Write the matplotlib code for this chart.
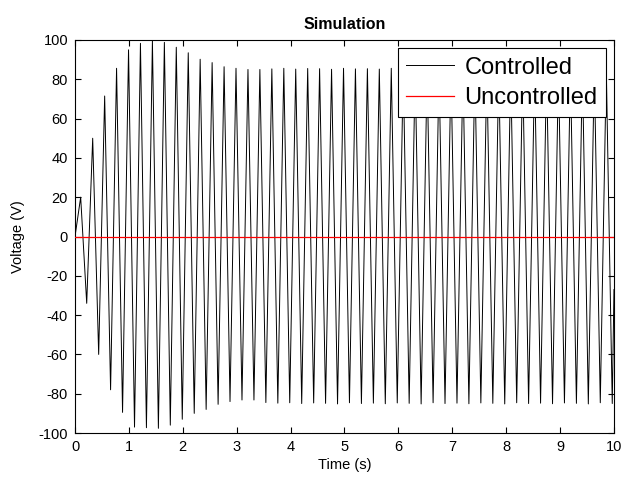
import numpy as np
import matplotlib
matplotlib.use('Agg')
import matplotlib.pyplot as plt

plt.rcParams['font.family'] = ['Liberation Sans', 'DejaVu Sans']
plt.rcParams['axes.unicode_minus'] = False

# controlled response, turning points of the oscillation (time in s, voltage in V)
ctrl_t = [0.0, 0.105, 0.217,
          0.328, 0.439, 0.550, 0.660, 0.771, 0.882, 0.993, 1.104, 1.214, 1.325,
          1.436, 1.547, 1.658, 1.768, 1.879, 1.990, 2.101, 2.212, 2.322, 2.433,
          2.544, 2.655, 2.766, 2.876, 2.987, 3.098, 3.209, 3.320, 3.430, 3.541,
          3.652, 3.763, 3.874, 3.984, 4.095, 4.206, 4.317, 4.428, 4.538, 4.649,
          4.760, 4.871, 4.982, 5.092, 5.203, 5.314, 5.425, 5.536, 5.646, 5.757,
          5.868, 5.979, 6.090, 6.200, 6.311, 6.422, 6.533, 6.644, 6.754, 6.865,
          6.976, 7.087, 7.198, 7.308, 7.419, 7.530, 7.641, 7.752, 7.862, 7.973,
          8.084, 8.195, 8.306, 8.416, 8.527, 8.638, 8.749, 8.860, 8.970, 9.081,
          9.192, 9.303, 9.414, 9.524, 9.635, 9.746, 9.857, 9.968,
          10.0]
ctrl_v = [0, 20, -34,
          50, -60, 71.5, -78, 85.6, -89.5, 95, -97, 98.3, -97.3,
          99.6, -97.6, 98.8, -96, 96.3, -93, 93.5, -90, 90.2, -88,
          88.5, -85.4, 86.4, -84, 85.6, -83.2, 85, -83.2, 85,
          -84.5, 85.3, -84.8, 85.6, -84.6, 85.2, -85.0, 85.5, -84.7, 85.4,
          -84.9, 85.1, -85.2, 85.6, -84.6, 85.3, -85.0, 85.4, -84.8, 85.2,
          -85.1, 85.6, -84.7, 85.3, -84.9, 85.5, -85.2, 85.1, -84.6, 85.4,
          -85.0, 85.6, -84.8, 85.2, -85.1, 85.5, -84.7, 85.3, -84.9, 85.4,
          -85.2, 85.1, -84.6, 85.6, -85.0, 85.3, -84.8, 85.5, -85.1, 85.2,
          -84.7, 85.4, -84.9, 85.6, -85.2, 85.1, -84.6, 85.3, -85.0,
          -27]

# uncontrolled response stays at zero
unctrl_t = [0.0, 10.0]
unctrl_v = [0, 0]

x_ticks = list(range(0, 11))
y_ticks = list(range(-100, 101, 20))

fig = plt.figure(figsize=(6.22, 4.79), dpi=100)
ax = fig.add_axes([0.1206, 0.0960, 0.8665, 0.8205])

ax.plot(ctrl_t, ctrl_v, color='black', linewidth=0.7, label='Controlled', zorder=2)
ax.plot(unctrl_t, unctrl_v, color='#ff0000', linewidth=0.9, label='Uncontrolled', zorder=3)

ax.set_xlim(0, 10)
ax.set_ylim(-100, 100)
ax.set_xticks(x_ticks)
ax.set_yticks(y_ticks)
ax.tick_params(direction='in', top=True, right=True, length=4, width=0.8,
               labelsize=10.5, pad=5)
for s in ax.spines.values():
    s.set_linewidth(0.8)

ax.set_title('Simulation', fontsize=11.5, fontweight='bold', pad=8)
ax.set_xlabel('Time (s)', fontsize=10.5, labelpad=3)
ax.set_ylabel('Voltage (V)', fontsize=10.5, labelpad=10)

leg = ax.legend(loc='upper right', fontsize=17, handlelength=2.0,
                handletextpad=0.45, labelspacing=0.35, borderpad=0.35,
                borderaxespad=0.35, fancybox=False, framealpha=1)
leg.get_frame().set_edgecolor('black')
leg.get_frame().set_linewidth(0.8)

fig.savefig('out.png', dpi=100)
